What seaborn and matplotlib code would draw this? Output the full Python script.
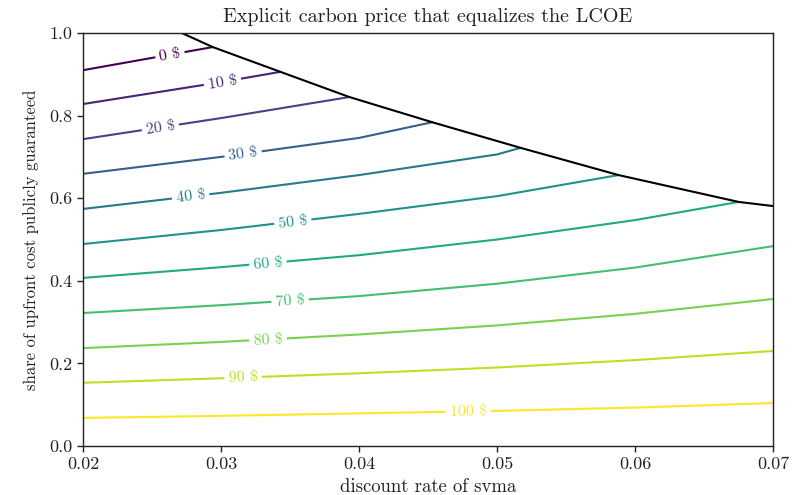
import numpy as np
import pandas as pd
import matplotlib.pyplot as plt
import seaborn as sns

# contour levels ($ per t CO2) and their traced points (discount rate, share guaranteed)
levels = [0, 10, 20, 30, 40, 50, 60, 70, 80, 90, 100]
rate_pts = {
    0: [0.02, 0.0294],
    10: [0.02, 0.03, 0.0343],
    20: [0.02, 0.03, 0.0393],
    30: [0.02, 0.03, 0.04, 0.0453],
    40: [0.02, 0.03, 0.04, 0.05, 0.0517],
    50: [0.02, 0.03, 0.04, 0.05, 0.0588],
    60: [0.02, 0.03, 0.04, 0.05, 0.06, 0.0675],
    70: [0.02, 0.03, 0.04, 0.05, 0.06, 0.07],
    80: [0.02, 0.03, 0.04, 0.05, 0.06, 0.07],
    90: [0.02, 0.03, 0.04, 0.05, 0.06, 0.07],
    100: [0.02, 0.03, 0.04, 0.05, 0.06, 0.07],
}
share_pts = {
    0: [0.910, 0.966],
    10: [0.828, 0.881, 0.906],
    20: [0.743, 0.794, 0.845],
    30: [0.659, 0.700, 0.746, 0.784],
    40: [0.574, 0.613, 0.656, 0.706, 0.722],
    50: [0.489, 0.523, 0.562, 0.605, 0.656],
    60: [0.407, 0.433, 0.462, 0.500, 0.547, 0.591],
    70: [0.322, 0.341, 0.363, 0.393, 0.432, 0.484],
    80: [0.237, 0.252, 0.270, 0.292, 0.320, 0.356],
    90: [0.153, 0.164, 0.176, 0.190, 0.208, 0.230],
    100: [0.068, 0.073, 0.079, 0.085, 0.093, 0.104],
}
# where each inline label sits (discount rate)
label_x = [0.0263, 0.0301, 0.0256, 0.0316, 0.0278, 0.0352, 0.0334, 0.0350, 0.0334, 0.0316, 0.0479]

# feasibility boundary (black line)
bound_rate = [0.0265, 0.0294, 0.0343, 0.0393, 0.0453, 0.0517, 0.0588, 0.0675, 0.07]
bound_share = [1.01, 0.966, 0.906, 0.845, 0.784, 0.722, 0.656, 0.591, 0.581]

rows = []
for lv in levels:
    for r, s in zip(rate_pts[lv], share_pts[lv]):
        rows.append({'level': lv, 'rate': r, 'share': s})
df = pd.DataFrame(rows)

sns.set_style('ticks')
plt.rcParams['font.family'] = ['cmr10', 'DejaVu Serif']
plt.rcParams['axes.unicode_minus'] = False
plt.rcParams['axes.formatter.use_mathtext'] = True

fig = plt.figure(figsize=(8.02, 4.95), dpi=100)
ax = fig.add_axes([0.1035, 0.099, 0.8605, 0.8343])

sns.lineplot(data=df, x='rate', y='share', hue='level', palette='viridis',
             hue_norm=(0, 100), sort=False, estimator=None, units='level',
             legend=False, linewidth=1.5, ax=ax)
ax.plot(bound_rate, bound_share, color='black', linewidth=1.5)

ax.set_xlim(0.02, 0.07)
ax.set_ylim(0.0, 1.0)
ax.set_xticks([0.02, 0.03, 0.04, 0.05, 0.06, 0.07])
ax.set_xticklabels(['0.02', '0.03', '0.04', '0.05', '0.06', '0.07'])
ax.set_yticks([0.0, 0.2, 0.4, 0.6, 0.8, 1.0])
ax.set_yticklabels(['0.0', '0.2', '0.4', '0.6', '0.8', '1.0'])

# inline contour labels
cmap = plt.get_cmap('viridis')
fig.canvas.draw()
for lv, lx in zip(levels, label_x):
    xs = np.array(rate_pts[lv])
    ys = np.array(share_pts[lv])
    ly = np.interp(lx, xs, ys)
    p1 = ax.transData.transform((lx - 0.002, np.interp(lx - 0.002, xs, ys)))
    p2 = ax.transData.transform((lx + 0.002, np.interp(lx + 0.002, xs, ys)))
    ang = np.degrees(np.arctan2(p2[1] - p1[1], p2[0] - p1[0]))
    ax.text(lx, ly, f'{lv} $', color=cmap(lv / 100), fontsize=11.5,
            rotation=ang, rotation_mode='anchor', ha='center', va='center',
            bbox=dict(facecolor='white', edgecolor='none', pad=3), zorder=5)

ax.set_title('Explicit carbon price that equalizes the LCOE', fontsize=14.5,
             color='#222222', pad=8)
ax.set_xlabel('discount rate of svma', fontsize=13.5, color='#222222')
ax.set_ylabel('share of upfront cost publicly guaranteed', fontsize=12, color='#222222')
ax.xaxis.set_label_coords(0.5, -0.077)
ax.yaxis.set_label_coords(-0.064, 0.5)
ax.tick_params(direction='out', length=4, width=1, labelsize=13, colors='#222222')
for sp in ax.spines.values():
    sp.set_visible(True)
    sp.set_color('#222222')
    sp.set_linewidth(1.0)

fig.savefig('out.png', dpi=100)
